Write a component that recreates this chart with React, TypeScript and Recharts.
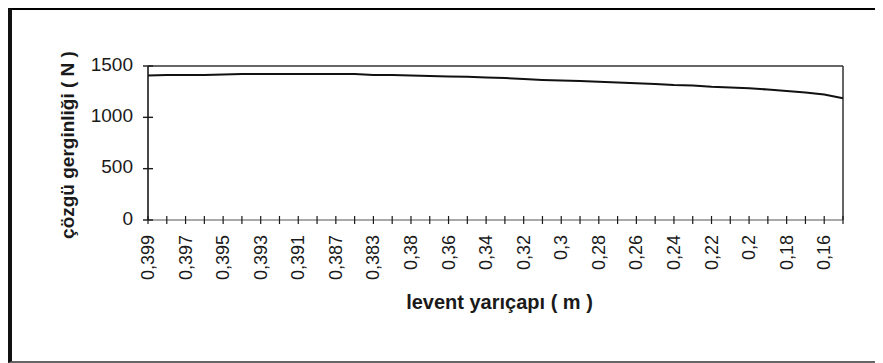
import React from 'react'
import { LineChart, Line, XAxis, YAxis, ReferenceLine } from 'recharts'

// levent yarıçapı (m), largest radius first
const radii = [
  '0,399', '0,398', '0,397', '0,396', '0,395', '0,394', '0,393', '0,392', '0,391', '0,389',
  '0,387', '0,385', '0,383', '0,381', '0,38', '0,37', '0,36', '0,35', '0,34', '0,33',
  '0,32', '0,31', '0,3', '0,29', '0,28', '0,27', '0,26', '0,25', '0,24', '0,23',
  '0,22', '0,21', '0,2', '0,19', '0,18', '0,17', '0,16', '0,15',
]

// çözgü gerginliği (N)
const tension = [
  1407, 1412, 1412, 1412, 1417, 1422, 1422, 1422, 1422, 1422,
  1422, 1422, 1412, 1412, 1407, 1403, 1398, 1396, 1388, 1383,
  1373, 1364, 1359, 1354, 1347, 1339, 1331, 1325, 1315, 1310,
  1298, 1291, 1283, 1271, 1256, 1242, 1222, 1185,
]

const yTicks = [0, 500, 1000, 1500]

const data = radii.map((r, i) => ({ r, t: tension[i] }))

const FONT = '"Liberation Sans", Arial, sans-serif'
const INK = '#1a1a1a'

function XTick(props: any) {
  const { x, y, index, payload } = props
  const ty = y + 15
  return (
    <g>
      <line x1={x} x2={x} y1={y - 4} y2={y + 4} stroke={INK} strokeWidth={1.2} />
      {index % 2 === 0 && (
        <text
          x={x}
          y={ty}
          transform={`rotate(-90 ${x} ${ty})`}
          textAnchor="end"
          dominantBaseline="central"
          fontSize={18}
          fill={INK}
          fontFamily={FONT}
        >
          {payload.value}
        </text>
      )}
    </g>
  )
}

function YTick(props: any) {
  const { x, y, payload } = props
  return (
    <g>
      <line x1={x - 5} x2={x + 5} y1={y} y2={y} stroke={INK} strokeWidth={1.4} />
      <text x={x - 15} y={y - 2} textAnchor="end" dominantBaseline="central" fontSize={19} fill={INK} fontFamily={FONT}>
        {payload.value}
      </text>
    </g>
  )
}

export default function App() {
  return (
    <div style={{ position: 'relative', width: 875, height: 355 }}>
      <style>{'body{overflow:hidden;background:#fff}'}</style>
      <div
        style={{
          position: 'absolute',
          left: 0,
          top: -1,
          width: 875,
          height: 356,
          boxSizing: 'border-box',
          borderTop: '3px solid #000',
          borderLeft: '4px solid #111',
          borderBottom: '2px solid #666',
        }}
      />
      <div style={{ position: 'absolute', left: -8, top: -8 }}>
        <LineChart
          width={883}
          height={363}
          data={data}
          margin={{ top: 66, right: 40, bottom: 142, left: 147 }}
          style={{ fontFamily: FONT }}
        >
          <XAxis
            dataKey="r"
            height={1}
            interval={0}
            tickSize={0}
            tickMargin={0}
            tickLine={false}
            tick={<XTick />}
            axisLine={{ stroke: '#555', strokeWidth: 1.2 }}
            label={{
              content: (p: any) => {
                const vb = p.viewBox || { x: 148, y: 220, width: 695 }
                const cx = vb.x + vb.width / 2 + 4
                return (
                  <text x={cx} y={vb.y + 82} textAnchor="middle" dominantBaseline="central" fontSize={20} fontWeight="bold" fill={INK} fontFamily={FONT}>
                    levent yarıçapı ( m )
                  </text>
                )
              },
            }}
          />
          <YAxis
            width={1}
            domain={[0, 1500]}
            ticks={yTicks}
            interval={0}
            tickSize={0}
            tickMargin={0}
            tickLine={false}
            tick={<YTick />}
            axisLine={{ stroke: INK, strokeWidth: 1.6 }}
            label={{
              content: (p: any) => {
                const vb = p.viewBox || { x: 147, y: 66, width: 1, height: 154 }
                const cx = vb.x + vb.width - 81
                const cy = vb.y + vb.height / 2 + 2
                return (
                  <text x={cx} y={cy} transform={`rotate(-90 ${cx} ${cy})`} textAnchor="middle" dominantBaseline="central" fontSize={19} fontWeight="bold" fill={INK} fontFamily={FONT}>
                    çözgü gerginliği ( N )
                  </text>
                )
              },
            }}
          />
          <ReferenceLine y={1500} stroke="#333" strokeWidth={1.5} ifOverflow="visible" />
          <ReferenceLine x={radii[radii.length - 1]} stroke="#333" strokeWidth={1.5} ifOverflow="visible" />
          <Line type="linear" dataKey="t" stroke="#111" strokeWidth={2} dot={false} isAnimationActive={false} />
        </LineChart>
      </div>
    </div>
  )
}
